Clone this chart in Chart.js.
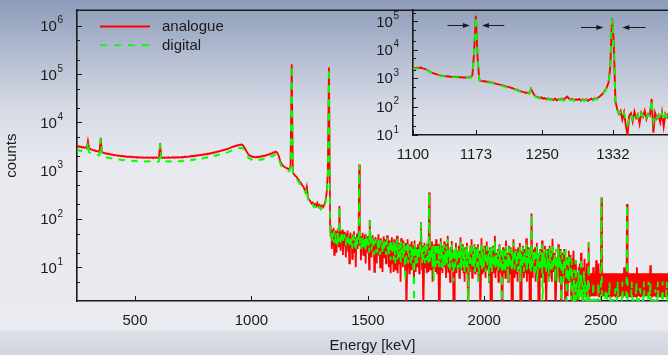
<!DOCTYPE html>
<html>
<head>
<meta charset="utf-8">
<script src="https://cdn.jsdelivr.net/npm/chart.js@4.4.1/dist/chart.umd.min.js"></script>
<style>
  html, body { margin: 0; padding: 0; }
  body {
    width: 668px; height: 355px; overflow: hidden; position: relative;
    background: linear-gradient(to bottom, #8c9bb9 0px, #b4bdd1 55px, #d6dbe5 110px, #e7e9ef 160px, #eaebf0 330px, #dcdfe7 332px, #d1d5df 355px);
  }
  #main { position: absolute; left: 0; top: 0; }
  #inset { position: absolute; left: 370px; top: 0; }
</style>
</head>
<body>
<canvas id="main" width="668" height="355"></canvas>
<canvas id="inset" width="298" height="170"></canvas>
<script>
// spectrum below the 1332 line, 5 keV channels from 248 keV
const lowStartKeV = 248;
const lowStepKeV = 5;

const analogueLow = [
  3260, 3150, 3230, 3080, 3170, 3020, 3110, 2990, 3060, 2940,   // 248
  4100, 2900, 2860, 2740, 2720, 2610, 2650, 2540, 2580, 2470,   // 298
  2510, 4800, 2420, 2380, 2300, 2330, 2240, 2270, 2190, 2230,   // 348
  2140, 2170, 2090, 2130, 2060, 2100, 2020, 2070, 1990, 2040,   // 398
  1970, 2010, 1950, 1990, 1930, 1980, 1910, 1960, 1900, 1950,   // 448
  1880, 1930, 1870, 1920, 1860, 1910, 1850, 1900, 1840, 1890,   // 498
  1860, 1910, 1840, 1880, 1850, 1900, 1830, 1890, 1860, 1910,   // 548
  1840, 1880, 3700, 1870, 1840, 1900, 1830, 1880, 1850, 1910,   // 598
  1840, 1890, 1860, 1920, 1850, 1900, 1870, 1930, 1860, 1910,   // 648
  1880, 1940, 1890, 1960, 1910, 1980, 1930, 2000, 1950, 2030,   // 698
  1980, 2060, 2000, 2090, 2040, 2120, 2070, 2150, 2100, 2190,   // 748
  2140, 2230, 2180, 2270, 2220, 2320, 2270, 2380, 2330, 2440,   // 798
  2400, 2510, 2470, 2580, 2550, 2660, 2630, 2740, 2720, 2830,   // 848
  2810, 2900, 2990, 3020, 3140, 3130, 3260, 3240, 3370, 3330,   // 898
  3460, 3420, 3540, 3380, 3150, 2850, 2560, 2330, 2140, 2090,   // 948
  1970, 1990, 1900, 1950, 1880, 1940, 1890, 1970, 1920, 2010,   // 998
  1970, 2060, 2020, 2120, 2090, 2200, 2170, 2290, 2260, 2390,   // 1048
  2360, 2500, 2440, 2260, 1980, 1640, 1430, 1330, 1230, 1200,   // 1098
  1140, 1130, 1080, 1090, 1250, 160000, 900, 850, 780, 760,     // 1148
  690, 650, 580, 560, 500, 470, 410, 370, 470, 280,             // 1198
  250, 235, 210, 220, 195, 205, 185, 215, 180, 195,             // 1248
  172, 190, 175, 195, 240, 340, 900, 137000                     // 1298
];

const digitalLow = [
  2700, 2620, 2680, 2560, 2630, 2510, 2580, 2490, 2540, 2450,   // 248
  4000, 2410, 2370, 2290, 2250, 2180, 2200, 2110, 2140, 2060,   // 298
  2090, 4700, 2010, 1980, 1920, 1940, 1870, 1890, 1830, 1850,   // 348
  1790, 1810, 1750, 1780, 1720, 1750, 1690, 1730, 1670, 1700,   // 398
  1650, 1680, 1630, 1660, 1610, 1650, 1600, 1640, 1590, 1630,   // 448
  1580, 1610, 1570, 1600, 1560, 1590, 1550, 1580, 1540, 1570,   // 498
  1550, 1590, 1540, 1570, 1550, 1580, 1530, 1570, 1550, 1590,   // 548
  1540, 1560, 3600, 1560, 1530, 1580, 1520, 1570, 1540, 1590,   // 598
  1530, 1570, 1550, 1600, 1540, 1590, 1560, 1610, 1550, 1600,   // 648
  1570, 1620, 1580, 1640, 1600, 1660, 1620, 1680, 1640, 1710,   // 698
  1660, 1730, 1690, 1760, 1710, 1790, 1740, 1820, 1780, 1850,   // 748
  1810, 1880, 1840, 1920, 1880, 1960, 1920, 2010, 1970, 2070,   // 798
  2030, 2130, 2090, 2190, 2160, 2250, 2220, 2320, 2300, 2400,   // 848
  2380, 2470, 2550, 2580, 2680, 2670, 2780, 2770, 2880, 2850,   // 898
  2960, 2930, 3020, 2900, 2700, 2450, 2200, 2000, 1840, 1790,   // 948
  1690, 1710, 1640, 1680, 1620, 1670, 1630, 1700, 1660, 1740,   // 998
  1700, 1780, 1750, 1840, 1810, 1910, 1880, 1990, 1960, 2080,   // 1048
  2060, 2180, 2130, 1980, 1740, 1450, 1270, 1180, 1100, 1070,   // 1098
  1020, 1010, 970, 980, 1150, 155000, 820, 770, 710, 690,       // 1148
  630, 590, 530, 510, 455, 430, 375, 340, 440, 255,             // 1198
  228, 214, 192, 200, 178, 187, 170, 196, 165, 178,             // 1248
  158, 173, 160, 178, 215, 310, 820, 135000                     // 1298
];

// spectrum above the 1332 line, 2.5 keV channels from 1338 keV
const highStartKeV = 1338;
const highStepKeV = 2.5;

const analogueHigh = [
  75, 42, 60, 24, 55, 30, 66, 18, 48, 36,          // 1338
  58, 20, 52, 40, 64, 26, 185, 44, 22, 56,         // 1363
  34, 60, 18, 47, 28, 54, 38, 16, 50, 30,          // 1388
  58, 22, 44, 12, 40, 52, 26, 36, 15, 48,          // 1413
  30, 56, 20, 42, 10, 38, 50, 24, 34, 46,          // 1438
  1340, 28, 45, 14, 40, 32, 52, 18, 36, 26,        // 1463
  48, 12, 38, 30, 44, 20, 35, 9, 95, 30,           // 1488
  40, 16, 34, 46, 22, 38, 8, 30, 42, 25,           // 1513
  12, 36, 28, 48, 18, 33, 10, 40, 24, 30,          // 1538
  8, 34, 44, 16, 28, 38, 12, 26, 46, 20,           // 1563
  32, 10, 36, 24, 7.5, 30, 42, 12, 28, 8,          // 1588
  38, 20, 9, 34, 26, 45, 7.5, 22, 32, 12,          // 1613
  28, 5, 40, 18, 30, 10, 36, 14, 24, 8,            // 1638
  32, 1, 1, 38, 10, 20, 7.5, 30, 16, 9,            // 1663
  34, 12, 22, 28, 5, 36, 12, 8, 26, 18,            // 1688
  10, 30, 20, 7.5, 34, 16, 87, 24, 9, 28,          // 1713
  1, 1, 32, 10, 18, 26, 7.5, 30, 14, 8,            // 1738
  355, 20, 9, 28, 12, 34, 5, 22, 10, 30,           // 1763
  16, 8, 38, 24, 7.5, 18, 30, 1, 1, 12,            // 1788
  40, 9, 20, 7.5, 28, 14, 34, 10, 22, 6,           // 1813
  30, 10, 45, 8, 18, 24, 5, 26, 12, 35,            // 1838
  9, 20, 1, 1, 16, 8, 32, 7.5, 22, 10,             // 1863
  18, 28, 6, 14, 42, 9, 24, 10, 30, 7.5,           // 1888
  20, 5, 26, 16, 8, 32, 12, 1, 1, 18,              // 1913
  8, 28, 10, 38, 6, 22, 14, 9, 30, 7.5,            // 1938
  20, 26, 8, 16, 30, 5, 12, 22, 1, 1,              // 1963
  40, 7.5, 24, 10, 8, 28, 16, 6, 20, 34,           // 1988
  9, 14, 22, 5, 26, 10, 1, 1, 8, 18,               // 2013
  28, 7.5, 12, 45, 6, 20, 14, 9, 24, 5,            // 2038
  16, 30, 8, 10, 22, 1, 1, 26, 7.5, 14,            // 2063
  24, 6, 36, 12, 9, 20, 5, 28, 10, 7.5,            // 2088
  26, 14, 1, 1, 8, 38, 12, 6, 18, 24,              // 2113
  7.5, 20, 5, 26, 12, 9, 32, 1, 1, 22,             // 2138
  8, 28, 10, 6, 24, 14, 7.5, 40, 5, 18,            // 2163
  7.5, 26, 12, 1, 1, 9, 130, 16, 6, 24,            // 2188
  8, 14, 26, 5, 10, 32, 7.5, 18, 1, 1,             // 2213
  9, 24, 12, 6, 36, 7.5, 16, 20, 5, 28,            // 2238
  10, 1, 1, 24, 8, 14, 6, 28, 12, 7.5,             // 2263
  22, 5, 39, 10, 8, 20, 14, 1, 1, 9,               // 2288
  16, 6, 30, 7.5, 18, 5, 24, 1, 1, 20,             // 2313
  7.5, 5, 24, 10, 1, 1, 8, 16, 2.5, 14,            // 2338
  22, 5, 10, 18, 2.5, 15, 1, 1, 22, 7.5,           // 2363
  12, 2.5, 14, 5, 1, 1, 7.5, 10, 5, 12,            // 2388
  2.5, 20, 5, 7.5, 1, 10, 2.5, 15, 5, 7.5,         // 2413
  2.5, 12, 5, 7.5, 33, 2.5, 5, 7.5, 2.5, 5,        // 2438
  7.5, 2.5, 10, 2.5, 7.5, 5, 2.5, 14, 2.5, 7.5,    // 2463
  5, 12, 2.5, 7.5, 2.5, 7.5, 280, 7.5, 2.5, 7.5,   // 2488
  2.5, 5, 7.5, 2.5, 7.5, 2.5, 5, 7.5, 2.5, 7.5,    // 2513
  2.5, 7.5, 5, 2.5, 7.5, 2.5, 7.5, 2.5, 5, 7.5,    // 2538
  2.5, 7.5, 2.5, 7.5, 5, 2.5, 7.5, 2.5, 7.5, 2.5,  // 2563
  5, 7.5, 2.5, 7.5, 2.5, 10, 2.5, 7.5, 5, 2.5,     // 2588
  205, 7.5, 2.5, 7.5, 2.5, 5, 7.5, 2.5, 7.5, 2.5,  // 2613
  7.5, 5, 2.5, 7.5, 2.5, 7.5, 2.5, 10, 2.5, 7.5,   // 2638
  2.5, 7.5, 5, 2.5, 7.5, 2.5, 7.5, 2.5, 7.5, 5,    // 2663
  2.5, 7.5, 2.5, 7.5, 2.5, 5, 7.5, 2.5, 7.5, 2.5,  // 2688
  11, 2.5, 7.5, 2.5, 7.5, 5, 2.5, 7.5, 2.5, 7.5,   // 2713
  2.5, 7.5, 2.5, 5, 7.5, 2.5, 7.5, 2.5, 7.5, 2.5,  // 2738
  5, 7.5, 2.5, 7.5, 2.5, 7.5, 5, 2.5, 7.5, 2.5,    // 2763
  7.5                                              // 2788
];

const digitalHigh = [
  62, 40, 52, 34, 48, 38, 56, 32, 46, 40,          // 1338
  50, 30, 46, 38, 54, 34, 185, 42, 32, 48,         // 1363
  36, 50, 30, 44, 34, 48, 38, 28, 46, 34,          // 1388
  50, 28, 40, 26, 42, 46, 30, 38, 24, 44,          // 1413
  32, 48, 26, 40, 22, 36, 44, 28, 36, 42,          // 1438
  1300, 30, 40, 24, 38, 32, 46, 26, 34, 30,        // 1463
  42, 22, 36, 30, 40, 24, 34, 20, 92, 30,          // 1488
  36, 22, 32, 40, 26, 36, 18, 30, 38, 26,          // 1513
  20, 34, 28, 40, 22, 32, 18, 36, 26, 30,          // 1538
  18, 32, 38, 22, 28, 34, 18, 26, 40, 22,          // 1563
  30, 16, 34, 24, 14, 28, 36, 18, 26, 14,          // 1588
  34, 22, 12, 30, 24, 38, 14, 22, 30, 16,          // 1613
  26, 12, 34, 20, 28, 14, 32, 18, 24, 5,           // 1638
  28, 14, 24, 34, 12, 20, 16, 28, 18, 12,          // 1663
  30, 14, 22, 26, 1, 32, 16, 12, 24, 20,           // 1688
  12, 28, 20, 14, 30, 18, 85, 24, 12, 26,          // 1713
  14, 22, 28, 12, 20, 24, 14, 28, 16, 12,          // 1738
  350, 20, 12, 26, 14, 30, 10, 22, 5, 28,          // 1763
  16, 10, 32, 22, 12, 18, 28, 10, 24, 14,          // 1788
  34, 10, 20, 9, 26, 14, 30, 10, 22, 12,           // 1813
  28, 12, 38, 10, 18, 24, 9, 24, 14, 30,           // 1838
  10, 20, 5, 26, 16, 10, 28, 12, 22, 9,            // 1863
  18, 26, 10, 14, 34, 9, 22, 12, 28, 10,           // 1888
  20, 8, 24, 16, 10, 28, 12, 1, 22, 18,            // 1913
  10, 26, 12, 32, 9, 20, 14, 10, 28, 8,            // 1938
  20, 24, 10, 16, 28, 5, 12, 22, 10, 18,           // 1963
  32, 9, 22, 12, 10, 26, 16, 8, 20, 28,            // 1988
  10, 14, 22, 5, 24, 12, 9, 28, 8, 18,             // 2013
  26, 10, 12, 36, 9, 20, 14, 10, 22, 8,            // 2038
  16, 28, 10, 12, 22, 1, 18, 24, 9, 14,            // 2063
  22, 8, 30, 12, 9, 20, 5, 26, 10, 12,             // 2088
  24, 14, 8, 22, 10, 32, 12, 9, 18, 22,            // 2113
  10, 20, 8, 24, 12, 9, 28, 5, 16, 20,             // 2138
  9, 26, 10, 8, 22, 14, 10, 32, 8, 18,             // 2163
  12, 24, 12, 9, 20, 8, 125, 16, 10, 22,           // 2188
  8, 14, 24, 9, 10, 28, 5, 18, 10, 20,             // 2213
  8, 22, 12, 9, 30, 1, 16, 20, 10, 24,             // 2238
  10, 8, 18, 22, 9, 14, 5, 26, 12, 9,              // 2263
  20, 8, 32, 10, 9, 20, 14, 5, 24, 10,             // 2288
  16, 5, 26, 10, 18, 9, 22, 1, 12, 18,             // 2313
  9, 5, 22, 10, 8, 24, 1, 14, 5, 12,               // 2338
  18, 5, 10, 16, 2.1, 14, 5, 2.1, 2.1, 9,          // 2363
  2.1, 2.1, 14, 2.1, 5, 2.1, 2.1, 9, 2.1, 5,       // 2388
  2.1, 16, 2.1, 5, 2.1, 2.1, 9, 2.1, 5, 2.1,       // 2413
  2.1, 5, 2.1, 2.1, 32, 2.1, 2.1, 2.1, 2.1, 2.1,   // 2438
  2.1, 2.1, 5, 2.1, 2.1, 2.1, 2.1, 2.1, 2.1, 2.1,  // 2463
  2.1, 5, 2.1, 2.1, 2.1, 2.1, 275, 2.1, 2.1, 2.1,  // 2488
  2.1, 2.1, 2.1, 3.5, 3.5, 3.5, 2.1, 2.1, 2.1, 2.1,  // 2513
  5, 2.1, 2.1, 2.1, 2.1, 2.1, 2.1, 2.1, 2.1, 2.1,  // 2538
  3.5, 3.5, 2.1, 2.1, 5, 2.1, 2.1, 2.1, 2.1, 2.1,  // 2563
  2.1, 2.1, 5, 2.1, 2.1, 2.1, 2.1, 2.1, 2.1, 3.5,  // 2588
  200, 2.1, 2.1, 2.1, 2.1, 2.1, 2.1, 2.1, 5, 2.1,  // 2613
  2.1, 2.1, 2.1, 2.1, 2.1, 2.1, 5, 2.1, 2.1, 2.1,  // 2638
  2.1, 2.1, 3.5, 3.5, 2.1, 2.1, 2.1, 2.1, 2.1, 5,  // 2663
  2.1, 2.1, 2.1, 2.1, 2.1, 2.1, 2.1, 5, 2.1, 2.1,  // 2688
  5, 2.1, 2.1, 2.1, 2.1, 2.1, 2.1, 2.1, 2.1, 3.5,  // 2713
  2.1, 2.1, 2.1, 5, 2.1, 2.1, 2.1, 2.1, 2.1, 2.1,  // 2738
  2.1, 5, 2.1, 2.1, 2.1, 2.1, 2.1, 2.1, 5, 2.1,    // 2763
  2.1                                              // 2788
];

// zoom on the two cobalt lines, 2 keV channels from 1099 keV
const insetStartKeV = 1099;
const insetStepKeV = 2;

const insetAnalogue = [
  2150, 2250, 2180, 2320, 2280, 2350, 2200, 2150, 2050, 1880,   // 1099
  1720, 1600, 1520, 1420, 1380, 1300, 1270, 1210, 1180, 1200,   // 1119
  1140, 1160, 1110, 1130, 1090, 1120, 1070, 1100, 1050, 1080,   // 1139
  1030, 1070, 1040, 1080, 1060, 1300, 9000, 155000, 5000, 860,  // 1159
  800, 770, 790, 740, 760, 700, 720, 670, 650, 630,             // 1179
  600, 590, 560, 540, 520, 500, 490, 460, 450, 420,             // 1199
  400, 390, 360, 350, 330, 320, 300, 310, 290, 420,             // 1219
  320, 250, 220, 215, 200, 210, 190, 200, 180, 195,             // 1239
  175, 185, 170, 190, 165, 180, 175, 190, 170, 200,             // 1259
  225, 190, 175, 185, 165, 180, 170, 185, 160, 178,             // 1279
  165, 182, 160, 175, 190, 170, 195, 185, 210, 230,             // 1299
  260, 300, 370, 480, 700, 2500, 130000, 20000, 150, 80,        // 1319
  55, 70, 35, 62, 22, 10, 48, 58, 30, 66,                       // 1339
  40, 52, 25, 60, 44, 70, 36, 55, 48, 185,                      // 1359
  12, 60, 38, 50, 28, 64, 20, 55, 42, 60                        // 1379
];

const insetDigital = [
  2100, 2150, 2120, 2200, 2180, 2250, 2120, 2080, 1980, 1820,   // 1099
  1680, 1560, 1470, 1390, 1340, 1270, 1240, 1180, 1150, 1160,   // 1119
  1110, 1120, 1080, 1090, 1060, 1080, 1040, 1060, 1020, 1040,   // 1139
  1000, 1030, 1010, 1040, 1030, 1250, 8500, 150000, 4800, 820,  // 1159
  770, 740, 750, 710, 720, 670, 690, 640, 620, 600,             // 1179
  575, 560, 535, 515, 495, 475, 465, 440, 430, 400,             // 1199
  385, 370, 345, 335, 315, 305, 290, 295, 280, 400,             // 1219
  300, 240, 210, 205, 192, 198, 182, 190, 172, 185,             // 1239
  168, 176, 162, 180, 158, 172, 168, 180, 162, 190,             // 1259
  215, 182, 168, 176, 158, 172, 162, 176, 152, 170,             // 1279
  158, 174, 152, 168, 180, 162, 186, 178, 200, 220,             // 1299
  250, 290, 350, 460, 670, 2400, 125000, 19000, 140, 75,        // 1319
  58, 64, 42, 58, 30, 22, 50, 55, 36, 60,                       // 1339
  44, 50, 32, 56, 46, 62, 40, 52, 46, 175,                      // 1359
  30, 55, 40, 48, 34, 58, 30, 52, 44, 56                        // 1379
];

// peak markers in the inset: [from keV, to keV, counts]
const peakArrows = [
  [1140, 1166, 76000], [1206, 1180, 76000],
  [1295, 1321, 64000], [1370, 1343, 64000]
];

const mainXTicks = [500, 1000, 1500, 2000, 2500];
const mainYTicks = [5, 10, 20, 50, 100, 200, 500, 1e3, 2e3, 5e3, 1e4, 2e4, 5e4, 1e5, 2e5, 5e5, 1e6];
const insetXTicks = [1100, 1173, 1250, 1332];
const insetYTicks = [10, 20, 50, 100, 200, 500, 1e3, 2e3, 5e3, 1e4, 2e4, 5e4, 1e5, 2e5];

const seriesNames = ['analogue', 'digital'];
const seriesColors = ['#ff0000', '#00ff00'];
const DASH = [7, 7];

const FONT = '"Liberation Sans", Arial, sans-serif';
const INK = '#1a1a1a';

function toPoints(start, step, counts) {
  return counts.map((c, i) => ({ x: start + i * step, y: c }));
}

function isDecade(v) {
  const e = Math.log10(v);
  return Math.abs(e - Math.round(e)) < 1e-9;
}

// inward tick marks, 10^n labels and optional top frame line
const axisDecor = {
  id: 'axisDecor',
  afterDraw(chart, args, opts) {
    const { ctx, chartArea: a, scales: { x, y } } = chart;
    ctx.save();
    ctx.strokeStyle = INK;
    ctx.fillStyle = INK;
    ctx.lineWidth = 1;
    ctx.beginPath();
    x.ticks.forEach(t => {
      const px = Math.round(x.getPixelForValue(t.value)) + 0.5;
      ctx.moveTo(px, a.bottom);
      ctx.lineTo(px, a.bottom - 5);
    });
    y.ticks.forEach(t => {
      const py = Math.round(y.getPixelForValue(t.value)) + 0.5;
      ctx.moveTo(a.left, py);
      ctx.lineTo(a.left + (isDecade(t.value) ? 5 : 3), py);
    });
    ctx.stroke();

    if (opts.topBorder) {
      ctx.lineWidth = 1.6;
      ctx.beginPath();
      ctx.moveTo(a.left, a.top);
      ctx.lineTo(a.right, a.top);
      ctx.stroke();
    }

    const right = a.left - 14;
    y.ticks.filter(t => isDecade(t.value)).forEach(t => {
      const py = y.getPixelForValue(t.value);
      const exp = String(Math.round(Math.log10(t.value)));
      ctx.textBaseline = 'alphabetic';
      ctx.font = '10px ' + FONT;
      const we = ctx.measureText(exp).width;
      ctx.textAlign = 'left';
      ctx.fillText(exp, right - we, py - 2.5);
      ctx.font = '15px ' + FONT;
      ctx.textAlign = 'right';
      ctx.fillText('10', right - we - 0.5, py + 5.3);
    });
    ctx.restore();
  }
};

const legendBox = {
  id: 'legendBox',
  afterDatasetsDraw(chart) {
    const { ctx, chartArea: a } = chart;
    ctx.save();
    seriesNames.forEach((name, k) => {
      const ly = a.top + 16.3 + k * 18.7;
      ctx.strokeStyle = seriesColors[k];
      ctx.lineWidth = 1.8;
      ctx.setLineDash(k === 1 ? DASH : []);
      ctx.beginPath();
      ctx.moveTo(a.left + 23, ly);
      ctx.lineTo(a.left + 73, ly);
      ctx.stroke();
      ctx.setLineDash([]);
      ctx.fillStyle = INK;
      ctx.font = '15px ' + FONT;
      ctx.textAlign = 'left';
      ctx.textBaseline = 'alphabetic';
      ctx.fillText(name, a.left + 85, ly + 4.5);
    });
    ctx.restore();
  }
};

const arrowMarks = {
  id: 'arrowMarks',
  afterDatasetsDraw(chart) {
    const { ctx, scales: { x, y } } = chart;
    ctx.save();
    ctx.strokeStyle = INK;
    ctx.fillStyle = INK;
    ctx.lineWidth = 1;
    peakArrows.forEach(([from, to, level]) => {
      const x1 = x.getPixelForValue(from);
      const x2 = x.getPixelForValue(to);
      const py = Math.round(y.getPixelForValue(level)) + 0.5;
      const dir = Math.sign(x2 - x1);
      ctx.beginPath();
      ctx.moveTo(x1, py);
      ctx.lineTo(x2 - dir * 4, py);
      ctx.stroke();
      ctx.beginPath();
      ctx.moveTo(x2, py);
      ctx.lineTo(x2 - dir * 7, py - 2.6);
      ctx.lineTo(x2 - dir * 7, py + 2.6);
      ctx.closePath();
      ctx.fill();
    });
    ctx.restore();
  }
};

function datasets(a, d, width) {
  return [
    {
      label: seriesNames[0],
      data: a,
      borderColor: seriesColors[0],
      borderWidth: width,
      order: 1
    },
    {
      label: seriesNames[1],
      data: d,
      borderColor: seriesColors[1],
      borderWidth: width,
      borderDash: DASH,
      order: 0
    }
  ];
}

function tickFont() {
  return { family: FONT, size: 15 };
}

const mainAnalogue = toPoints(lowStartKeV, lowStepKeV, analogueLow).concat(toPoints(highStartKeV, highStepKeV, analogueHigh));
const mainDigital = toPoints(lowStartKeV, lowStepKeV, digitalLow).concat(toPoints(highStartKeV, highStepKeV, digitalHigh));

new Chart(document.getElementById('main'), {
  type: 'line',
  data: { datasets: datasets(mainAnalogue, mainDigital, 1.8) },
  plugins: [axisDecor, legendBox],
  options: {
    responsive: false,
    animation: false,
    devicePixelRatio: 1,
    layout: { padding: { top: 6, left: 0, right: 0, bottom: 0 } },
    elements: { point: { radius: 0 }, line: { tension: 0, fill: false } },
    plugins: { legend: { display: false }, tooltip: { enabled: false }, axisDecor: { topBorder: true } },
    scales: {
      x: {
        type: 'linear', min: 251, max: 2789,
        afterBuildTicks: s => { s.ticks = mainXTicks.map(v => ({ value: v })); },
        afterFit: s => { s.height = 54; },
        grid: { display: false },
        border: { color: INK, width: 1.6 },
        ticks: { color: INK, font: tickFont(), padding: 3, maxRotation: 0, autoSkip: false, callback: v => String(v) },
        title: { display: true, text: 'Energy [keV]', color: INK, font: tickFont(), padding: { top: 0, bottom: 0 } }
      },
      y: {
        type: 'logarithmic', min: 2, max: 2.12e6,
        afterBuildTicks: s => { s.ticks = mainYTicks.map(v => ({ value: v })); },
        afterFit: s => { s.width = 77; },
        grid: { display: false },
        border: { color: INK, width: 1.6 },
        ticks: { autoSkip: false, callback: () => '' },
        title: { display: true, text: 'counts', color: INK, font: tickFont(), padding: { top: 2.5, bottom: 0 } }
      }
    }
  }
});

new Chart(document.getElementById('inset'), {
  type: 'line',
  data: { datasets: datasets(toPoints(insetStartKeV, insetStepKeV, insetAnalogue), toPoints(insetStartKeV, insetStepKeV, insetDigital), 1.9) },
  plugins: [axisDecor, arrowMarks],
  options: {
    responsive: false,
    animation: false,
    devicePixelRatio: 1,
    layout: { padding: { top: 7, left: 0, right: 0, bottom: 0 } },
    elements: { point: { radius: 0 }, line: { tension: 0, fill: false } },
    plugins: { legend: { display: false }, tooltip: { enabled: false }, axisDecor: { topBorder: false } },
    scales: {
      x: {
        type: 'linear', min: 1100, max: 1396,
        afterBuildTicks: s => { s.ticks = insetXTicks.map(v => ({ value: v })); },
        afterFit: s => { s.height = 35; },
        grid: { display: false },
        border: { color: INK, width: 1.6 },
        ticks: { color: INK, font: tickFont(), padding: 3, maxRotation: 0, autoSkip: false, callback: v => String(v) }
      },
      y: {
        type: 'logarithmic', min: 10, max: 2.44e5,
        afterBuildTicks: s => { s.ticks = insetYTicks.map(v => ({ value: v })); },
        afterFit: s => { s.width = 43; },
        grid: { display: false },
        border: { color: INK, width: 1.6 },
        ticks: { autoSkip: false, callback: () => '' }
      }
    }
  }
});
</script>
</body>
</html>
